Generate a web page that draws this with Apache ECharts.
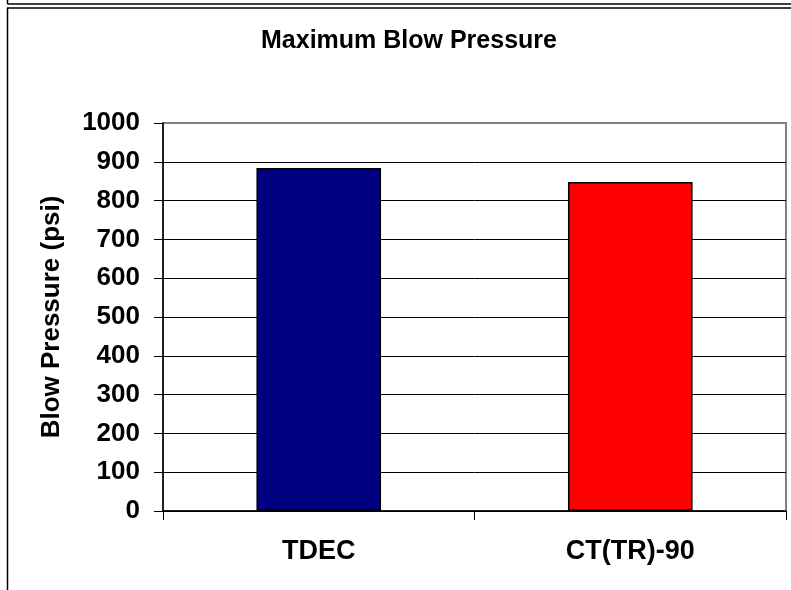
<!DOCTYPE html>
<html>
<head>
<meta charset="utf-8">
<title>Maximum Blow Pressure</title>
<script src="https://cdn.jsdelivr.net/npm/echarts@6/dist/echarts.min.js"></script>
<style>
  html, body { margin: 0; padding: 0; background: #fff; }
  #chart { width: 791px; height: 590px; }
</style>
</head>
<body>
<div id="chart"></div>
<script>
// data
var categories = ['TDEC', 'CT(TR)-90']
var pressure = [884, 848]
var barColors = ['#000080', '#FF0000']

var font = 'Arial, "Liberation Sans", sans-serif'

var chart = echarts.init(document.getElementById('chart'))
var option = {
  backgroundColor: '#fff',
  animation: false,
  title: {
    text: 'Maximum Blow Pressure',
    left: 404,
    top: 24,
    textAlign: 'center',
    textStyle: { fontFamily: font, fontWeight: 'bold', fontSize: 25, color: '#000' },
  },
  grid: {
    left: 163,
    top: 123,
    width: 623,
    height: 388,
    show: true,
    borderColor: '#808080',
    borderWidth: 2,
    backgroundColor: '#fff',
  },
  xAxis: {
    type: 'category',
    data: categories,
    axisLine: { lineStyle: { color: '#000', width: 1.5 } },
    axisTick: { show: true, length: 9, lineStyle: { color: '#000' } },
    axisLabel: {
      margin: 27,
      fontFamily: font,
      fontWeight: 'bold',
      fontSize: 27,
      color: '#000',
    },
  },
  yAxis: {
    type: 'value',
    min: 0,
    max: 1000,
    interval: 100,
    name: 'Blow Pressure (psi)',
    nameLocation: 'middle',
    nameRotate: 90,
    nameGap: 98,
    nameTextStyle: { fontFamily: font, fontWeight: 'bold', fontSize: 26, color: '#000' },
    axisLine: { show: true, lineStyle: { color: '#000', width: 1.5 } },
    axisTick: { show: true, length: 9, lineStyle: { color: '#000' } },
    axisLabel: {
      margin: 23,
      fontFamily: font,
      fontWeight: 'bold',
      fontSize: 26,
      color: '#000',
      formatter: function (v) { return String(v) },
    },
    splitLine: { show: true, showMaxLine: false, lineStyle: { color: '#000', width: 1 } },
  },
  series: [
    {
      type: 'bar',
      barWidth: '40%',
      data: pressure.map(function (v, i) {
        return { value: v, itemStyle: { color: barColors[i] } }
      }),
      itemStyle: { borderColor: '#000', borderWidth: 1.5 },
    },
  ],
  graphic: [
    // outer frames of the original sheet
    { type: 'line', shape: { x1: 7.5, y1: 0, x2: 7.5, y2: 4 }, style: { stroke: '#000', lineWidth: 1.5 } },
    { type: 'line', shape: { x1: 7.5, y1: 4, x2: 791, y2: 4 }, style: { stroke: '#000', lineWidth: 1.5 } },
    { type: 'rect', shape: { x: 7.5, y: 8, width: 900, height: 700 }, style: { fill: null, stroke: '#000', lineWidth: 1.5 } },
  ],
}
chart.setOption(option)
</script>
</body>
</html>
